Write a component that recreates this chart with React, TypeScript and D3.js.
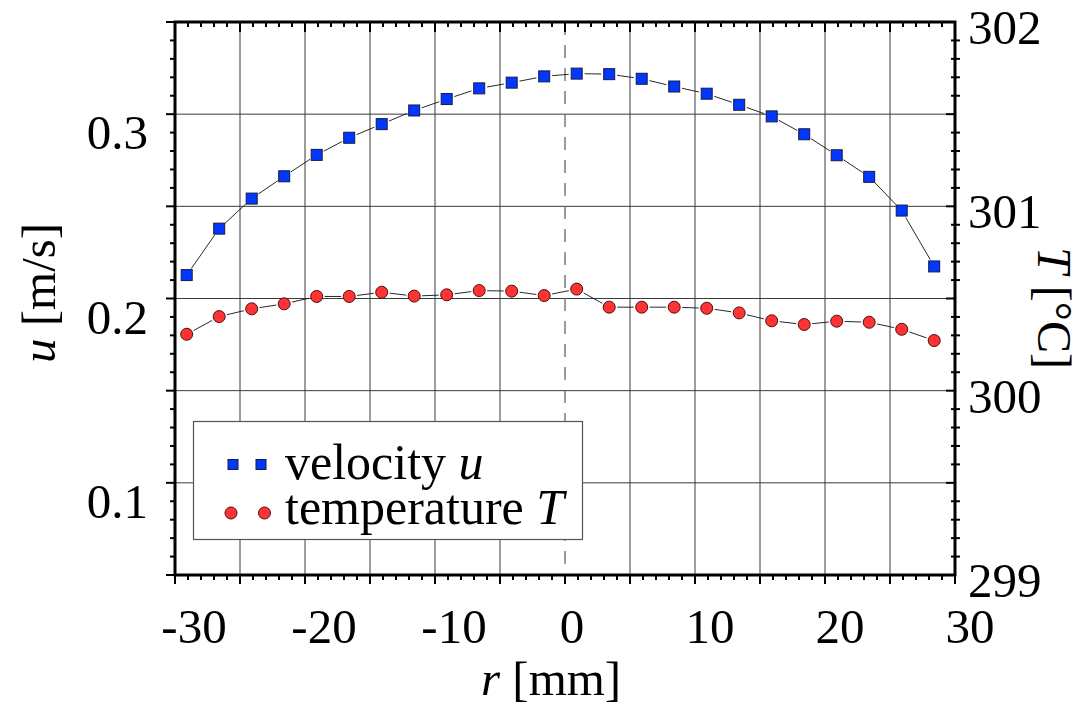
import React from "react";
import * as d3 from "d3";

// radial positions [mm]
const radius = [
  -29.1, -26.6, -24.1, -21.6, -19.1, -16.6, -14.1, -11.6, -9.1, -6.6, -4.1, -1.6,
  0.9, 3.4, 5.9, 8.4, 10.9, 13.4, 15.9, 18.4, 20.9, 23.4, 25.9, 28.4,
];
// velocity u [m/s]
const velocity = [
  0.2127, 0.2379, 0.2542, 0.2663, 0.2779, 0.2872, 0.2946, 0.302, 0.3082, 0.314, 0.3171, 0.3205,
  0.322, 0.3217, 0.3192, 0.315, 0.3111, 0.3051, 0.2988, 0.2891, 0.2777, 0.266, 0.2477, 0.2174,
];
// temperature T [°C]
const temperature = [
  300.306, 300.402, 300.444, 300.471, 300.511, 300.511, 300.534, 300.513, 300.52, 300.543, 300.54, 300.516,
  300.551, 300.453, 300.453, 300.453, 300.447, 300.422, 300.379, 300.359, 300.377, 300.371, 300.333, 300.272,
];

const xTickLabels = [-30, -20, -10, 0, 10, 20, 30];
const uTickLabels = [0.1, 0.2, 0.3];
const tTickLabels = [299, 300, 301, 302];

const W = 1079;
const H = 703;
const left = 175;
const right = 955;
const top = 22;
const bottom = 575;
const FONT = "'Liberation Serif', 'Times New Roman', serif";

const BLUE = "#0038ff";
const RED = "#ff3333";

const x = d3.scaleLinear().domain([-30, 30]).range([left, right]);
const yU = d3.scaleLinear().domain([0.05, 0.35]).range([bottom, top]);
const yT = d3.scaleLinear().domain([299, 302]).range([bottom, top]);

// line segments between markers, with a small gap at each end
function segments(xs: number[], ys: number[], gap: number) {
  const out: string[] = [];
  for (let i = 0; i < xs.length - 1; i++) {
    const x0 = xs[i], y0 = ys[i], x1 = xs[i + 1], y1 = ys[i + 1];
    const dx = x1 - x0, dy = y1 - y0;
    const len = Math.hypot(dx, dy);
    if (len <= 2 * gap) continue;
    const ux = dx / len, uy = dy / len;
    out.push(`M${x0 + ux * gap},${y0 + uy * gap}L${x1 - ux * gap},${y1 - uy * gap}`);
  }
  return out.join("");
}

export default function App() {
  const minorX = x.ticks(60);
  const majorX = x.ticks(12);
  const minorY = yU.ticks(30);
  const majorY = yU.ticks(6);

  const px = radius.map((r) => x(r));
  const pu = velocity.map((v) => yU(v));
  const pt = temperature.map((t) => yT(t));

  return (
    <svg
      width={W}
      height={H}
      style={{ position: "absolute", left: 0, top: 0, background: "#fff" }}
      fontFamily={FONT}
    >
      {/* grid */}
      <g stroke="#3a3a3a" strokeWidth={1}>
        {majorX
          .filter((v) => v > -30 && v < 30 && v !== 0)
          .map((v) => (
            <line key={"gx" + v} x1={x(v)} x2={x(v)} y1={top} y2={bottom} />
          ))}
        {majorY
          .filter((v) => v > 0.051 && v < 0.349)
          .map((v) => (
            <line key={"gy" + v} x1={left} x2={right} y1={yU(v)} y2={yU(v)} />
          ))}
      </g>
      <line x1={x(0)} x2={x(0)} y1={top} y2={bottom} stroke="#666" strokeWidth={1.3} strokeDasharray="13 10" />

      {/* series lines */}
      <path d={segments(px, pu, 8)} stroke="#111" strokeWidth={0.9} fill="none" />
      <path d={segments(px, pt, 8)} stroke="#111" strokeWidth={0.9} fill="none" />

      {/* markers */}
      {radius.map((r, i) => (
        <rect key={"u" + i} x={px[i] - 5.5} y={pu[i] - 5.5} width={11} height={11} fill={BLUE} stroke="#1a1a40" strokeWidth={1} />
      ))}
      {radius.map((r, i) => (
        <circle key={"t" + i} cx={px[i]} cy={pt[i]} r={6} fill={RED} stroke="#4a1010" strokeWidth={1} />
      ))}

      {/* legend */}
      <rect x={193.5} y={421.5} width={389} height={118} fill="#fff" stroke="#555" strokeWidth={1.2} />
      <rect x={228} y={459.5} width={10} height={10} fill={BLUE} stroke="#1a1a40" strokeWidth={1} />
      <rect x={256} y={459.5} width={10} height={10} fill={BLUE} stroke="#1a1a40" strokeWidth={1} />
      <circle cx={231} cy={513} r={6} fill={RED} stroke="#4a1010" strokeWidth={1} />
      <circle cx={264.5} cy={513} r={6} fill={RED} stroke="#4a1010" strokeWidth={1} />
      <text x={285} y={479} fontSize={50}>
        velocity <tspan fontStyle="italic">u</tspan>
      </text>
      <text x={285} y={524} fontSize={50}>
        temperature <tspan fontStyle="italic">T</tspan>
      </text>

      {/* frame */}
      <rect x={left} y={top} width={right - left} height={bottom - top} fill="none" stroke="#000" strokeWidth={3} />

      {/* ticks */}
      <g stroke="#000" strokeWidth={2}>
        {minorX.map((v) => {
          const major = v % 5 === 0;
          return (
            <g key={"tx" + v}>
              <line x1={x(v)} x2={x(v)} y1={bottom} y2={bottom + (major ? 9 : 5)} />
              <line x1={x(v)} x2={x(v)} y1={top} y2={top + (major ? 10 : 5)} />
            </g>
          );
        })}
        {minorY.map((v) => {
          const major = Math.abs(Math.round(v * 20) - v * 20) < 1e-6;
          return (
            <g key={"ty" + v}>
              <line x1={left - (major ? 9 : 5)} x2={left} y1={yU(v)} y2={yU(v)} />
              {major ? (
                <line x1={right - 9} x2={right} y1={yU(v)} y2={yU(v)} />
              ) : (
                <line x1={right - 4} x2={right + 5} y1={yU(v)} y2={yU(v)} />
              )}
            </g>
          );
        })}
      </g>

      {/* tick labels */}
      <g fontSize={49} fill="#000">
        {xTickLabels.map((v) => (
          <text key={"lx" + v} x={x(v) + (v < 0 ? 19 : v === 0 ? 7 : 15)} y={643} textAnchor="middle">
            {String(v)}
          </text>
        ))}
        {uTickLabels.map((v) => (
          <text key={"lu" + v} x={148} y={yU(v) + 35} textAnchor="end">
            {v.toFixed(1)}
          </text>
        ))}
        {tTickLabels.map((v) => (
          <text key={"lt" + v} x={968} y={yT(v) + 22} textAnchor="start">
            {String(v)}
          </text>
        ))}
      </g>

      {/* axis titles */}
      <text x={481} y={695} fontSize={49}>
        <tspan fontStyle="italic">r</tspan> [mm]
      </text>
      <text transform="translate(55,363) rotate(-90)" fontSize={49}>
        <tspan fontStyle="italic">u</tspan> [m/s]
      </text>
      <text transform="translate(1038,247) rotate(90)" fontSize={48}>
        <tspan fontStyle="italic">T</tspan> [°C]
      </text>
    </svg>
  );
}
